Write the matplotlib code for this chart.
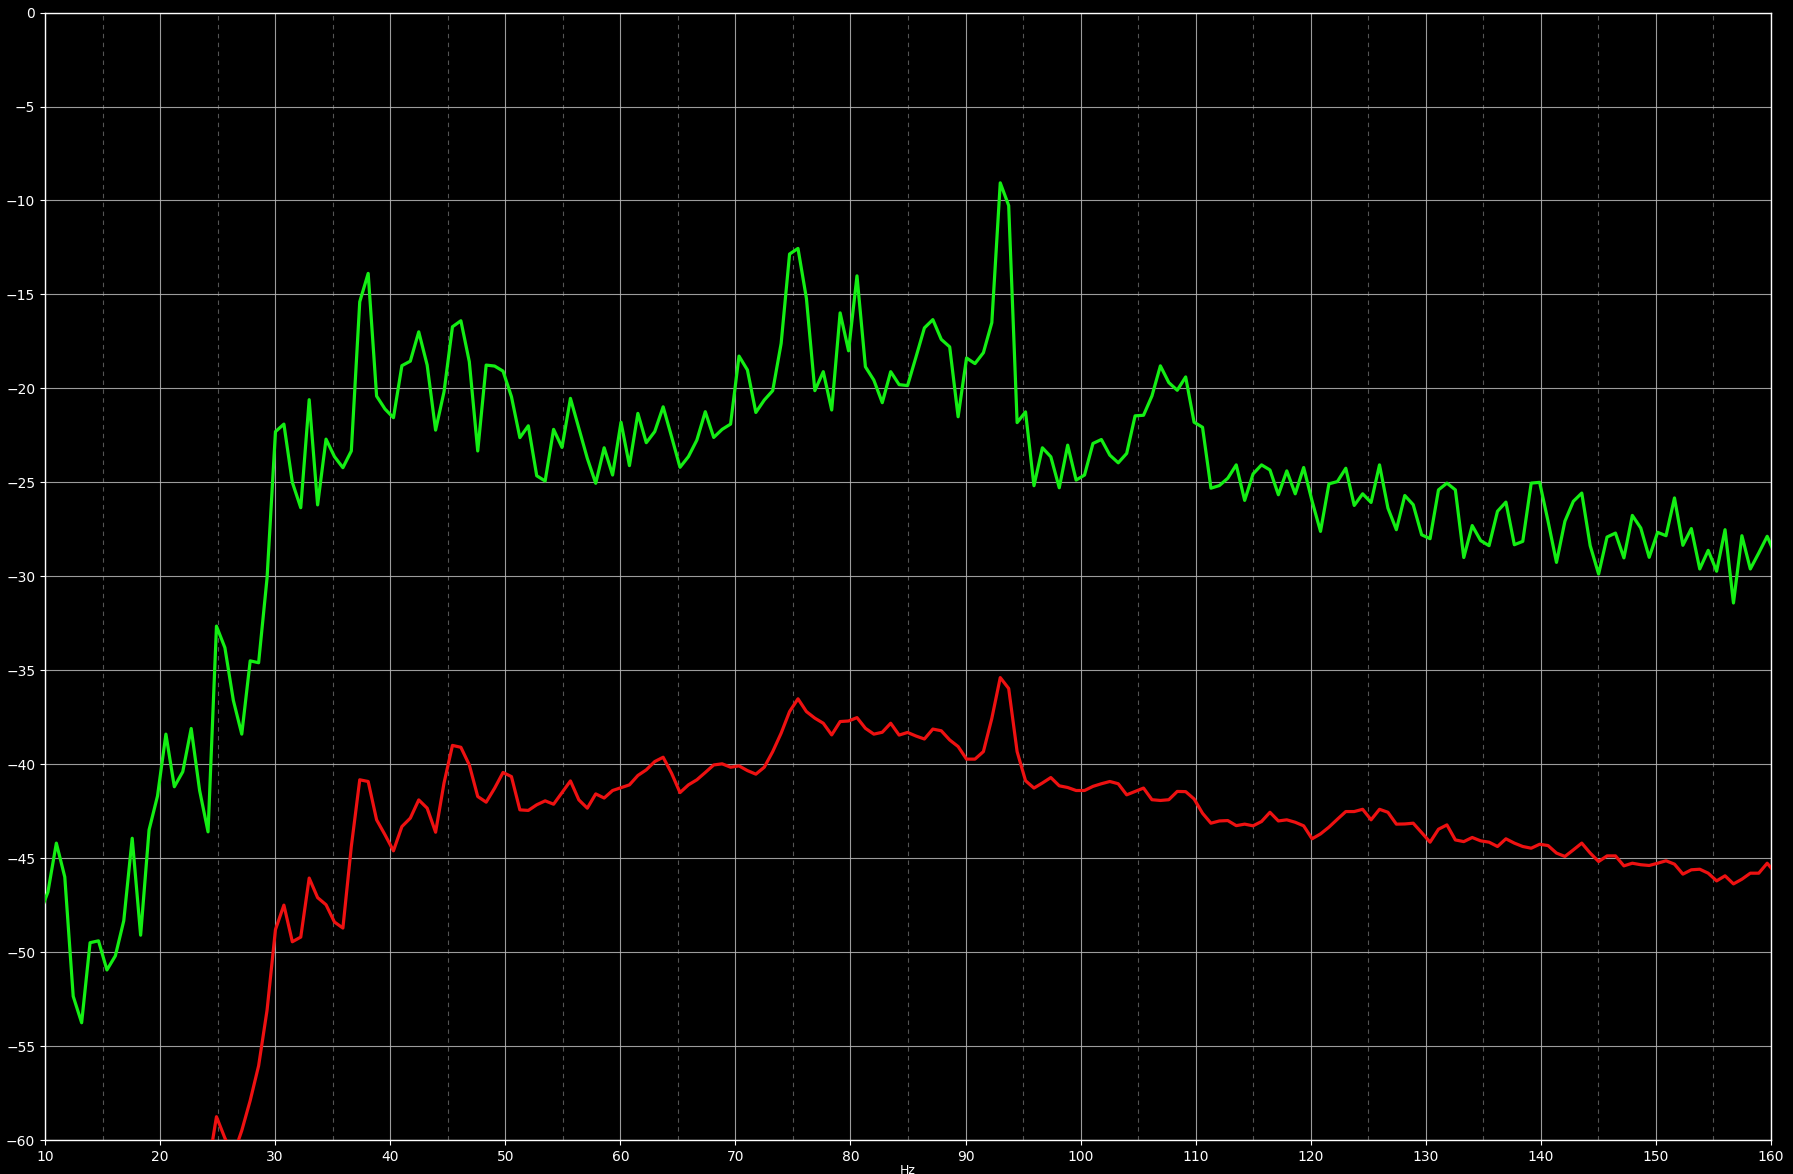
import numpy as np
import matplotlib
matplotlib.use("Agg")
import matplotlib.pyplot as plt
from matplotlib.ticker import MultipleLocator

# FFT bin indices (resolution 48000/65536 Hz per bin)
first_bin = 13
bin_hz = 48000 / 65536

green_db = [
    -48.0, -46.8, -44.2, -46.0, -52.35, -53.76, -49.5, -49.4, -50.95, -50.2,
    -48.33, -43.94, -49.1, -43.5, -41.7, -38.4, -41.2, -40.4, -38.1, -41.4,
    -43.6, -32.65, -33.8, -36.6, -38.4, -34.5, -34.6, -30.1, -22.3, -21.9,
    -25.0, -26.35, -20.6, -26.2, -22.7, -23.63, -24.22, -23.33, -15.39, -13.88,
    -20.41, -21.1, -21.56, -18.79, -18.55, -16.99, -18.76, -22.22, -20.18, -16.72,
    -16.4, -18.58, -23.33, -18.76, -18.81, -19.08, -20.44, -22.62, -21.99, -24.65,
    -24.93, -22.18, -23.14, -20.53, -22.13, -23.72, -25.05, -23.16, -24.61, -21.8,
    -24.11, -21.33, -22.89, -22.3, -20.98, -22.57, -24.2, -23.63, -22.75, -21.24,
    -22.61, -22.18, -21.9, -18.28, -19.02, -21.28, -20.62, -20.12, -17.61, -12.85,
    -12.55, -15.21, -20.12, -19.11, -21.15, -15.98, -18.0, -14.01, -18.85, -19.56,
    -20.76, -19.11, -19.8, -19.85, -18.33, -16.78, -16.34, -17.39, -17.79, -21.51,
    -18.38, -18.68, -18.1, -16.5, -9.06, -10.27, -21.82, -21.25, -25.18, -23.16,
    -23.64, -25.29, -23.02, -24.88, -24.61, -22.93, -22.72, -23.55, -23.96, -23.46,
    -21.46, -21.43, -20.4, -18.8, -19.69, -20.1, -19.39, -21.8, -22.07, -25.31,
    -25.17, -24.78, -24.07, -25.96, -24.55, -24.07, -24.34, -25.66, -24.39, -25.61,
    -24.21, -26.0, -27.61, -25.08, -24.96, -24.25, -26.23, -25.61, -26.07, -24.07,
    -26.37, -27.52, -25.7, -26.19, -27.79, -28.0, -25.4, -25.04, -25.4, -29.0,
    -27.3, -28.1, -28.37, -26.54, -26.05, -28.32, -28.14, -25.04, -25.0, -27.07,
    -29.26, -27.07, -26.01, -25.57, -28.37, -29.88, -27.91, -27.7, -29.02, -26.76,
    -27.43, -28.99, -27.66, -27.84, -25.83, -28.35, -27.46, -29.61, -28.62, -29.73,
    -27.52, -31.42, -27.84, -29.61, -28.76, -27.87, -28.9,
]

nan = float("nan")
red_db = [
    nan, nan, nan, nan, nan, nan, nan, nan, nan, nan,
    nan, nan, nan, nan, nan, nan, nan, nan, nan, nan,
    -61.5, -58.76, -59.9, -60.8, -59.5, -57.9, -56.05, -53.1, -48.8, -47.5,
    -49.45, -49.2, -46.06, -47.1, -47.48, -48.4, -48.72, -44.38, -40.83, -40.92,
    -42.96, -43.76, -44.61, -43.32, -42.87, -41.9, -42.34, -43.62, -41.0, -39.0,
    -39.1, -40.04, -41.72, -42.02, -41.28, -40.44, -40.66, -42.43, -42.46, -42.16,
    -41.95, -42.13, -41.51, -40.89, -41.9, -42.34, -41.58, -41.8, -41.4, -41.25,
    -41.1, -40.6, -40.3, -39.86, -39.63, -40.48, -41.51, -41.1, -40.83, -40.44,
    -40.04, -39.98, -40.16, -40.09, -40.34, -40.53, -40.16, -39.33, -38.35, -37.2,
    -36.52, -37.2, -37.55, -37.82, -38.44, -37.73, -37.7, -37.52, -38.09, -38.4,
    -38.3, -37.82, -38.45, -38.31, -38.5, -38.66, -38.13, -38.22, -38.71, -39.06,
    -39.73, -39.73, -39.33, -37.56, -35.39, -35.97, -39.33, -40.88, -41.27, -41.0,
    -40.71, -41.15, -41.24, -41.4, -41.4, -41.18, -41.04, -40.92, -41.04, -41.63,
    -41.45, -41.27, -41.89, -41.93, -41.89, -41.45, -41.46, -41.85, -42.61, -43.14,
    -43.02, -43.0, -43.27, -43.19, -43.28, -43.05, -42.56, -43.02, -42.96, -43.09,
    -43.28, -43.97, -43.71, -43.35, -42.93, -42.52, -42.52, -42.4, -42.96, -42.4,
    -42.56, -43.19, -43.18, -43.14, -43.64, -44.15, -43.46, -43.23, -44.03, -44.12,
    -43.9, -44.08, -44.15, -44.38, -43.97, -44.2, -44.38, -44.47, -44.26, -44.33,
    -44.73, -44.91, -44.56, -44.2, -44.73, -45.18, -44.88, -44.88, -45.41, -45.27,
    -45.35, -45.39, -45.27, -45.14, -45.32, -45.85, -45.62, -45.59, -45.8, -46.21,
    -45.94, -46.37, -46.12, -45.8, -45.8, -45.27, -45.8,
]

freq_hz = (first_bin + np.arange(len(green_db))) * bin_hz

x_ticks = [10, 20, 30, 40, 50, 60, 70, 80, 90, 100, 110, 120, 130, 140, 150, 160]
y_ticks = [-60, -55, -50, -45, -40, -35, -30, -25, -20, -15, -10, -5, 0]

W, H = 1793, 1174
fig = plt.figure(figsize=(W / 100, H / 100), dpi=100, facecolor="black")
ax = fig.add_axes([45 / W, 1 - 1140 / H, (1771 - 45) / W, (1140 - 12.6) / H])
ax.set_facecolor("black")

ax.plot(freq_hz, green_db, color="#14ee14", lw=2.3, zorder=3)
ax.plot(freq_hz, red_db, color="#ee1111", lw=2.3, zorder=3)

ax.set_xlim(10, 160)
ax.set_ylim(-60, 0)
ax.set_xticks(x_ticks)
ax.set_yticks(y_ticks)
ax.set_yticklabels([str(v).replace("-", "\u2212") for v in y_ticks])
ax.xaxis.set_minor_locator(MultipleLocator(5))

ax.grid(which="major", color="#b8b8b8", lw=0.8, ls="-", alpha=0.85)
ax.grid(which="minor", axis="x", color="#6a6a6a", lw=0.8, ls=(0, (4, 4)), alpha=0.8)
ax.tick_params(axis="both", which="major", colors="white", labelsize=10, length=3.5)
ax.tick_params(axis="x", which="minor", length=0)
for s in ax.spines.values():
    s.set_color("white")
    s.set_linewidth(1.0)

ax.set_xlabel("Hz", color="white", fontsize=9, labelpad=0)

fig.savefig("out.png", dpi=100, facecolor="black")
